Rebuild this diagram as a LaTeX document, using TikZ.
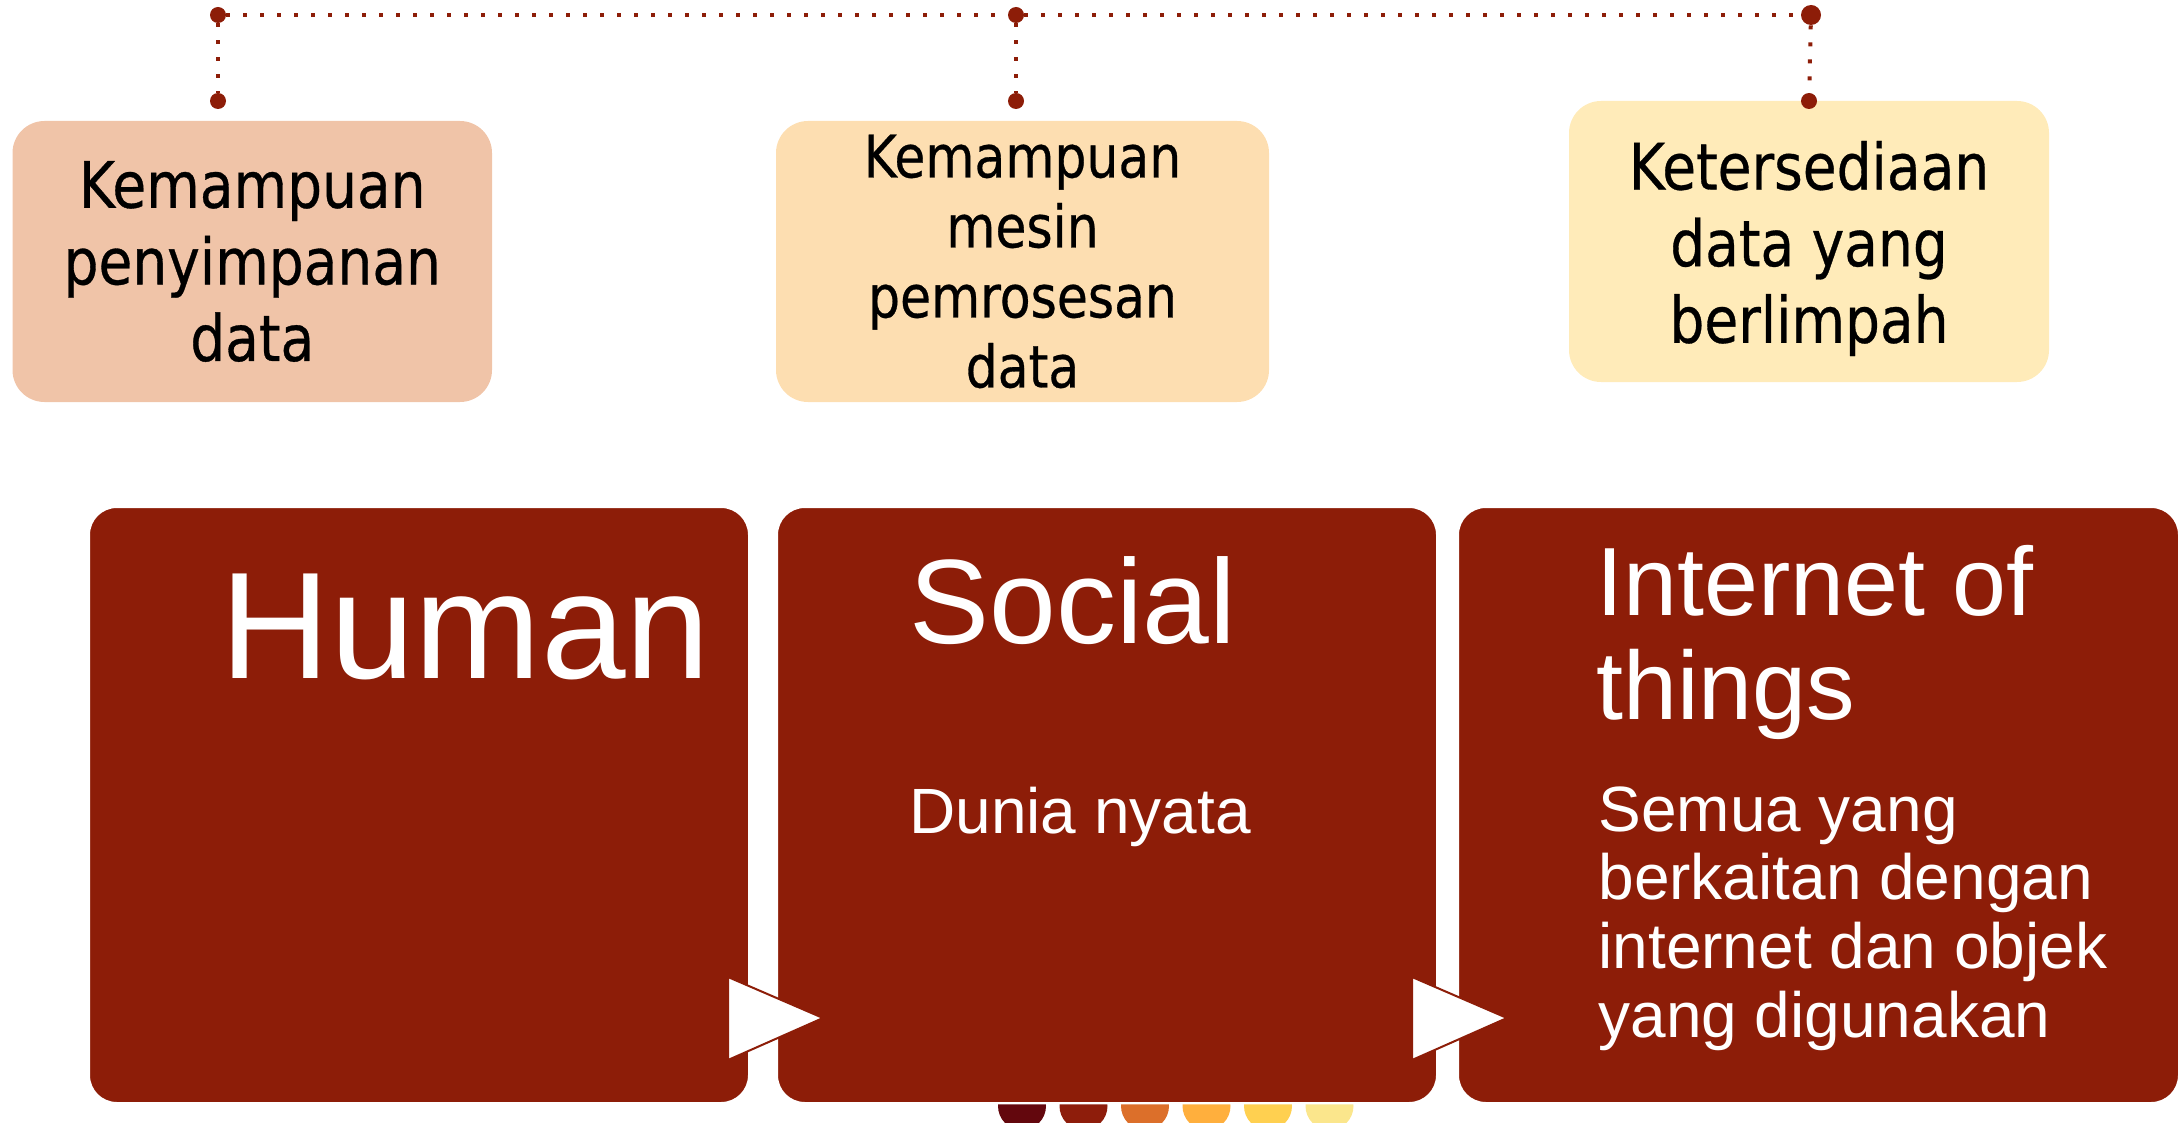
\documentclass[tikz,border=0pt]{standalone}
\usepackage{fontspec}
\setmainfont{Liberation Sans}
\newfontfamily\tahomalike[FakeStretch=0.86,FakeBold=0.5]{DejaVu Sans}
\definecolor{bigred}{HTML}{8D1D08}
\definecolor{peachA}{HTML}{F0C4A8}
\definecolor{peachB}{HTML}{FDDEB1}
\definecolor{peachC}{HTML}{FFEBB9}
\definecolor{cA}{HTML}{63070D}
\definecolor{cB}{HTML}{8E1D0B}
\definecolor{cC}{HTML}{DC6F2A}
\definecolor{cD}{HTML}{FFAF3D}
\definecolor{cE}{HTML}{FFD050}
\definecolor{cF}{HTML}{FBE68C}
\begin{document}
\begin{tikzpicture}[x=0.5pt,y=-0.5pt,
  bigbox/.style={fill=bigred, draw=white, line width=1.2pt, rounded corners=14pt, minimum height=298.2pt, inner sep=0pt},
  topbox/.style={rounded corners=16pt, minimum height=140.5pt, inner sep=0pt, align=center, text=black,
                 font=\tahomalike\fontsize{32pt}{38.3pt}\selectfont},
  toptext/.style={inner sep=0pt, align=center, text=black, font=\tahomalike\fontsize{32pt}{38.3pt}\selectfont},
  dotnode/.style={circle, fill=bigred, inner sep=0pt, minimum size=8pt},
  link/.style={draw=bigred, line width=2pt, dash pattern=on 2pt off 6.5pt},
  ttl/.style={text=white, inner sep=0pt, anchor=base west, align=left},
  semi/.style={circle, inner sep=0pt, minimum size=24pt},
  tri/.style={fill=white, draw=bigred, line width=1pt}
]
\useasboundingbox (0,0) rectangle (2179,1123);

% half circles at the bottom (behind boxes)
\foreach \x/\c [count=\i] in {1022/cA,1083.5/cB,1145/cC,1206.5/cD,1268/cE,1329.5/cF}
  \node[semi, fill=\c] (c\i) at (\x,1106) {};

% big boxes
\node[bigbox, minimum width=330.2pt] (human) at (419,805) {};
\node[bigbox, minimum width=330.2pt] (social) at (1107,805) {};
\node[bigbox, minimum width=360.7pt] (iot) at (1818.5,805) {};

% arrows
\filldraw[tri] (728,977) -- (823,1018) -- (728,1060) -- cycle;
\filldraw[tri] (1412,977) -- (1507,1018) -- (1412,1060) -- cycle;

% big box texts (base anchor = baseline of the last line)
\node[ttl, font=\fontsize{76pt}{80pt}\selectfont] (humant) at (220,678) {Human};
\node[ttl, font=\fontsize{60pt}{64pt}\selectfont] (socialt) at (909,643) {Social};
\node[ttl, font=\fontsize{32pt}{34.3pt}\selectfont] (sociald) at (909,833) {Dunia nyata};
\node[ttl, font=\fontsize{48.5pt}{52pt}\selectfont] (iott) at (1596,719) {Internet of\\things};
\node[ttl, font=\fontsize{32pt}{34.3pt}\selectfont] (iotd) at (1598,1037) {Semua yang\\berkaitan dengan\\internet dan objek\\yang digunakan};

% top boxes
\node[topbox, fill=peachA, minimum width=239.75pt] (t1) at (252.25,261.5) {Kemampuan\\penyimpanan\\data};
\node[topbox, fill=peachB, minimum width=246.5pt, font=\tahomalike\fontsize{29.3pt}{35pt}\selectfont] (t2) at (1022.5,261.5) {Kemampuan\\mesin\\pemrosesan\\data};
\node[topbox, fill=peachC, minimum width=240pt] (t3) at (1809,241.5) {};
\node[toptext] (t3text) at ([yshift=-3.5pt]t3.center) {Ketersediaan\\data yang\\berlimpah};

% dotted connectors
\node[dotnode] (d1top) at (218,15) {};
\node[dotnode] (d2top) at (1016,15) {};
\node[dotnode, minimum size=10pt] (d3top) at (1811,15) {};
\node[dotnode] (d1bot) at (218,101) {};
\node[dotnode] (d2bot) at (1016,101) {};
\node[dotnode] (d3bot) at (1809,101) {};
\draw[link] (d1top) -- (d2top);
\draw[link] (d2top) -- (d3top);
\draw[link] (d1top) -- (d1bot);
\draw[link] (d2top) -- (d2bot);
\draw[link] (d3top) -- (d3bot);
\end{tikzpicture}
\end{document}
